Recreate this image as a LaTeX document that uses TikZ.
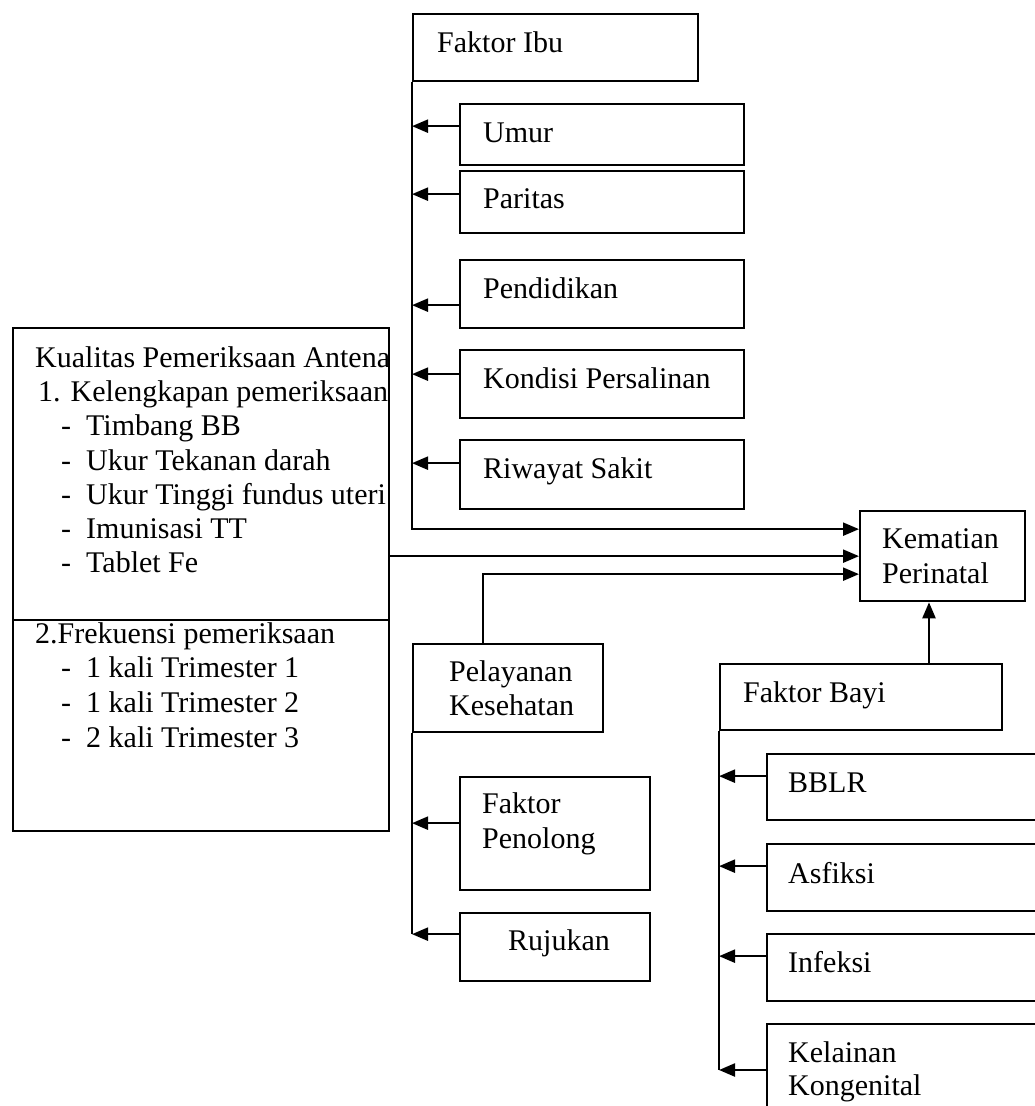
\documentclass[tikz,border=0pt]{standalone}
\usepackage{fontspec}
\setmainfont{Liberation Serif}
\usetikzlibrary{arrows.meta}
\newcommand\tnrfont{\fontsize{30}{34}\selectfont}
\begin{document}
\begin{tikzpicture}[x=1pt,y=-1pt,
  box/.style={draw, line width=2.3pt, inner sep=0pt, anchor=north west},
  txt/.style={anchor=base west, inner sep=0pt, font=\tnrfont},
  con/.style={line width=2.3pt},
  arr/.style={con, -{Triangle[length=16pt,width=13pt]}}]
\clip (0,0) rectangle (1035,1106);
\fill[white] (0,0) rectangle (1035,1106);
% boxes
\node[box, minimum width=285pt, minimum height=67pt] (fibu) at (412,13) {};
\node[box, minimum width=284pt, minimum height=61pt] (umur) at (459,103) {};
\node[box, minimum width=284pt, minimum height=62pt] (par) at (459,170) {};
\node[box, minimum width=284pt, minimum height=68pt] (pend) at (459,259) {};
\node[box, minimum width=284pt, minimum height=68pt] (kond) at (459,349) {};
\node[box, minimum width=284pt, minimum height=69pt] (riw) at (459,439) {};
\node[box, minimum width=376pt, minimum height=503pt] (kq) at (12,327) {};
\node[box, minimum width=165pt, minimum height=90pt] (kem) at (859,510) {};
\node[box, minimum width=190pt, minimum height=88pt] (pel) at (412,643) {};
\node[box, minimum width=190pt, minimum height=113pt] (pen) at (459,776) {};
\node[box, minimum width=190pt, minimum height=68pt] (ruj) at (459,912) {};
\node[box, minimum width=282pt, minimum height=66pt] (fb) at (719,663) {};
\node[box, minimum width=300pt, minimum height=66pt] (bblr) at (766,753) {};
\node[box, minimum width=300pt, minimum height=67pt] (asf) at (766,843) {};
\node[box, minimum width=300pt, minimum height=67pt] (inf) at (766,933) {};
\node[box, minimum width=300pt, minimum height=120pt] (kel) at (766,1023) {};
% divider in Kualitas box
\coordinate (div) at (0,620);
\draw[con] (kq.west |- div) -- (kq.east |- div);
% texts
\node[txt] (t-fibu) at (437,52) {Faktor Ibu};
\node[txt] (t-umur) at (483,142) {Umur};
\node[txt] (t-par) at (483,208) {Paritas};
\node[txt] (t-pend) at (483,298) {Pendidikan};
\node[txt] (t-kond) at (483,388) {Kondisi Persalinan};
\node[txt] (t-riw) at (483,478) {Riwayat Sakit};
\node[txt] (k1) at (35,367) {Kualitas Pemeriksaan Antena};
\node[txt] (k2) at (38,401) {1. Kelengkapan pemeriksaan};
\node[txt] (k3) at (61,435) {-\ \ Timbang BB};
\node[txt] (k4) at (61,470) {-\ \ Ukur Tekanan darah};
\node[txt] (k5) at (61,504) {-\ \ Ukur Tinggi fundus uteri};
\node[txt] (k6) at (61,538) {-\ \ Imunisasi TT};
\node[txt] (k7) at (61,572) {-\ \ Tablet Fe};
\node[txt] (k8) at (35,643) {2.Frekuensi pemeriksaan};
\node[txt] (k9) at (61,677) {-\ \ 1 kali Trimester 1};
\node[txt] (k10) at (61,712) {-\ \ 1 kali Trimester 2};
\node[txt] (k11) at (61,747) {-\ \ 2 kali Trimester 3};
\node[txt] (t-kem1) at (882,548) {Kematian};
\node[txt] (t-kem2) at (882,583) {Perinatal};
\node[txt] (t-pel1) at (449,681) {Pelayanan};
\node[txt] (t-pel2) at (449,715) {Kesehatan};
\node[txt] (t-pen1) at (482,813) {Faktor};
\node[txt] (t-pen2) at (482,848) {Penolong};
\node[txt] (t-ruj) at (508,950) {Rujukan};
\node[txt] (t-fb) at (743,702) {Faktor Bayi};
\node[txt] (t-bblr) at (788,792) {BBLR};
\node[txt] (t-asf) at (788,883) {Asfiksi};
\node[txt] (t-inf) at (788,972) {Infeksi};
\node[txt] (t-kel1) at (788,1062) {Kelainan};
\node[txt] (t-kel2) at (788,1095) {Kongenital};
% Faktor Ibu branch
\coordinate (ke1) at ([yshift=27pt]kem.west);
\draw[arr] (fibu.south west) |- (ke1);
\coordinate (a1) at ([yshift=8.5pt]umur.west);
\coordinate (a2) at ([yshift=8pt]par.west);
\coordinate (a3) at ([yshift=-11pt]pend.west);
\coordinate (a4) at ([yshift=10pt]kond.west);
\coordinate (a5) at ([yshift=11.5pt]riw.west);
\foreach \c in {a1,a2,a3,a4,a5} \draw[arr] (\c) -- (\c -| fibu.west);
% Kualitas to Kematian
\draw[arr] (kq.east |- kem.west) -- (kem.west);
% Pelayanan to Kematian
\coordinate (p0) at ([xshift=71pt]pel.north west);
\coordinate (ke3) at ([yshift=-18pt]kem.west);
\draw[arr] (p0) |- (ke3);
% Pelayanan branch
\coordinate (b1) at ([yshift=10.5pt]pen.west);
\coordinate (b2) at ([yshift=13pt]ruj.west);
\draw[con] (pel.south west) -- (b2 -| pel.west);
\foreach \c in {b1,b2} \draw[arr] (\c) -- (\c -| pel.west);
% Faktor Bayi to Kematian
\coordinate (upx) at ([xshift=210pt]fb.north west);
\draw[arr] (upx) -- (upx |- kem.south);
% Faktor Bayi branch
\coordinate (c1) at ([yshift=11pt]bblr.west);
\coordinate (c2) at ([yshift=11.5pt]asf.west);
\coordinate (c3) at ([yshift=11.5pt]inf.west);
\coordinate (c4) at ([yshift=-47pt]kel.north west);
\draw[con] (fb.south west) -- (c4 -| fb.west);
\foreach \c in {c1,c2,c3,c4} \draw[arr] (\c) -- (\c -| fb.west);
\end{tikzpicture}
\end{document}
